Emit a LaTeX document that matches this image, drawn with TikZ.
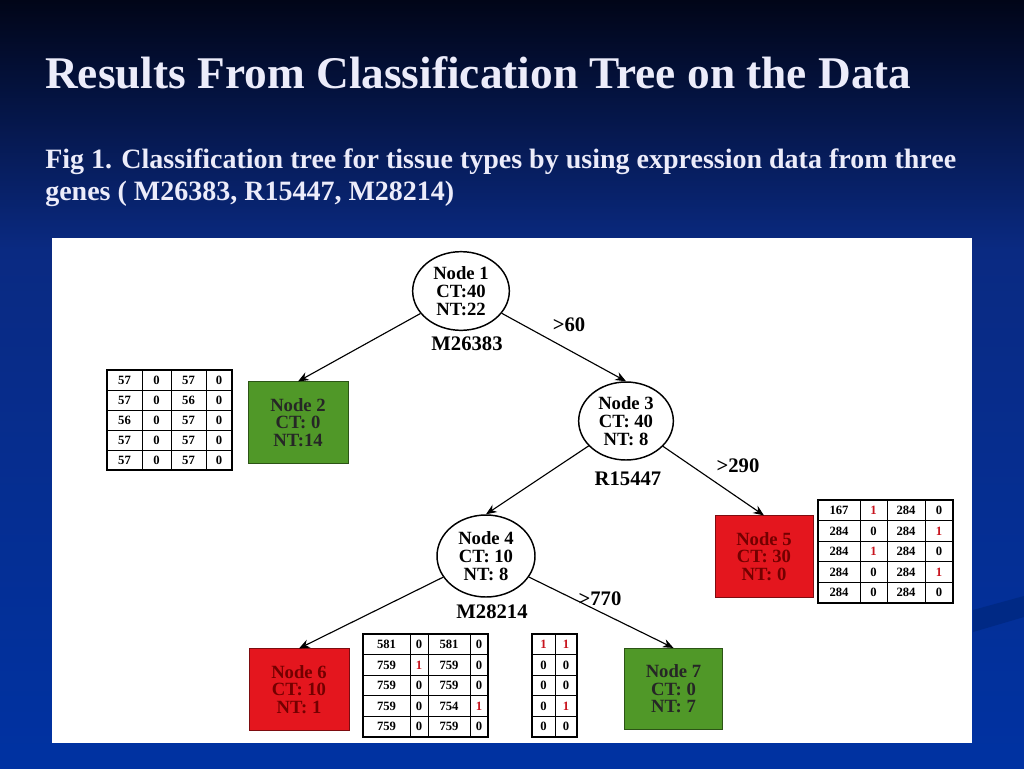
\documentclass[tikz,border=0pt]{standalone}
\usepackage{fontspec}
\setmainfont{Liberation Serif}
\usepackage{xcolor}
\usetikzlibrary{arrows.meta,shapes.geometric}

\definecolor{slidetop}{RGB}{1,5,24}
\definecolor{slidemid}{RGB}{10,42,130}
\definecolor{slidebot}{RGB}{0,50,162}
\definecolor{titlewhite}{RGB}{236,236,250}
\definecolor{leafgreen}{RGB}{80,152,40}
\definecolor{leafred}{RGB}{228,22,30}
\definecolor{cellred}{RGB}{200,20,30}

\newcommand{\rone}{\textcolor{cellred}{1}}

\begin{document}
\begin{tikzpicture}[x=0.75pt,y=-0.75pt,
    split/.style={ellipse,draw,line width=1.1pt,fill=white,align=center,inner sep=0pt,
        font=\fontsize{14}{13.5}\selectfont\bfseries},
    leaf/.style={rectangle,draw,line width=0.6pt,align=center,inner sep=0pt,
        minimum width=75pt,minimum height=61pt,font=\fontsize{14}{13.2}\selectfont\bfseries},
    gene/.style={font=\fontsize{15.5}{16}\selectfont\bfseries,inner sep=0pt},
    cell/.style={font=\fontsize{9.5}{10}\selectfont\bfseries,inner sep=0pt},
    branch/.style={-{Stealth[length=8pt,width=6.5pt]},line width=0.85pt}]
    % slide background
    \useasboundingbox (0,0) rectangle (1024,768);
    \shade[top color=slidetop,bottom color=slidemid] (0,0) rectangle (1024,250);
    \shade[top color=slidemid,bottom color=slidebot] (0,250) rectangle (1024,768);
    \fill[slidebot!82!black] (973,610) -- (1024,596) -- (1024,617) -- (973,632) -- cycle;
    \fill[white] (52,238) rectangle (972,743);

    \node[anchor=base west,inner sep=0pt,text=titlewhite,font=\fontsize{34}{36}\selectfont\bfseries]
        (title) at (45,88) {Results From Classification Tree on the Data};
    \node[anchor=base west,inner sep=0pt,text=titlewhite,font=\fontsize{21}{24}\selectfont\bfseries]
        (fig1) at (45,168) {Fig 1. Classification tree for tissue types by using expression data from three};
    \node[anchor=base west,inner sep=0pt,text=titlewhite,font=\fontsize{21}{24}\selectfont\bfseries]
        (fig2) at (45,200) {genes ( M26383, R15447, M28214)};

    % splits
    \node[split,minimum width=72.5pt,minimum height=59pt] (n1) at (461,291) {Node 1\\CT:40\\NT:22};
    \node[split,minimum width=71pt,minimum height=58.5pt] (n3) at (626,421) {Node 3\\CT: 40\\NT: 8};
    \node[split,minimum width=73.5pt,minimum height=61.5pt] (n4) at (486,556) {Node 4\\CT: 10\\NT: 8};
    % leaves
    \node[leaf,fill=leafgreen,draw=leafgreen!55!black,text=black!85] (n2) at (298,422.5) {Node 2\\CT: 0\\NT:14};
    \node[leaf,fill=leafred,draw=leafred!55!black,text=red!45!black,minimum width=73.5pt] (n5) at (764,556.5) {Node 5\\CT: 30\\NT: 0};
    \node[leaf,fill=leafred,draw=leafred!55!black,text=red!45!black] (n6) at (299,689.5) {Node 6\\CT: 10\\NT: 1};
    \node[leaf,fill=leafgreen,draw=leafgreen!55!black,text=black!85,minimum width=74pt] (n7) at (673.5,689) {Node 7\\CT: 0\\NT: 7};

    \draw[branch] (n1) -- (n2.north);
    \draw[branch] (n1) -- (n3.north);
    \draw[branch] (n3) -- (n4.north);
    \draw[branch] (n3) -- (n5.north);
    \draw[branch] (n4) -- (n6.north);
    \draw[branch] (n4) -- (n7.north);

    \node[gene] (g1) at (467,344) {M26383};
    \node[gene] (g3) at (628,479) {R15447};
    \node[gene] (g4) at (492,612) {M28214};
    \node[gene] (c1) at (569,325) {>60};
    \node[gene] (c3) at (738,466) {>290};
    \node[gene] (c4) at (600,599) {>770};

    % table beside node 2
    \foreach \a/\b/\c/\d [count=\r] in {57/0/57/0,57/0/56/0,56/0/57/0,57/0/57/0,57/0/57/0} {
        \node[cell] (ta-\r-1) at (124.5,360+20*\r) {\a};
        \node[cell] (ta-\r-2) at (156.5,360+20*\r) {\b};
        \node[cell] (ta-\r-3) at (188.5,360+20*\r) {\c};
        \node[cell] (ta-\r-4) at (219,360+20*\r) {\d};
    }
    \foreach \x in {142,171,206} \draw[line width=0.6pt] (\x,370) -- (\x,470);
    \foreach \y in {390,410,430,450} \draw[line width=0.6pt] (107,\y) -- (232,\y);
    \draw[line width=1.6pt] (107,370) rectangle (232,470);

    % table beside node 5
    \foreach \a/\b/\c/\d [count=\r] in {167/\rone/284/0,284/0/284/\rone,284/\rone/284/0,284/0/284/\rone,284/0/284/0} {
        \node[cell] (tb-\r-1) at (839,489.7+20.6*\r) {\a};
        \node[cell] (tb-\r-2) at (873.5,489.7+20.6*\r) {\b};
        \node[cell] (tb-\r-3) at (906,489.7+20.6*\r) {\c};
        \node[cell] (tb-\r-4) at (939,489.7+20.6*\r) {\d};
    }
    \foreach \x in {860,887,925} \draw[line width=0.6pt] (\x,500) -- (\x,603);
    \foreach \y in {520.6,541.2,561.8,582.4} \draw[line width=0.6pt] (818,\y) -- (953,\y);
    \draw[line width=1.6pt] (818,500) rectangle (953,603);

    % tables beside node 6
    \foreach \a/\b/\c/\d [count=\r] in {581/0/581/0,759/\rone/759/0,759/0/759/0,759/0/754/\rone,759/0/759/0} {
        \node[cell] (tc-\r-1) at (386.5,623.7+20.6*\r) {\a};
        \node[cell] (tc-\r-2) at (419,623.7+20.6*\r) {\b};
        \node[cell] (tc-\r-3) at (449,623.7+20.6*\r) {\c};
        \node[cell] (tc-\r-4) at (479,623.7+20.6*\r) {\d};
    }
    \foreach \x in {410,428,470} \draw[line width=0.6pt] (\x,634) -- (\x,737);
    \foreach \y in {654.6,675.2,695.8,716.4} \draw[line width=0.6pt] (363,\y) -- (488,\y);
    \draw[line width=1.6pt] (363,634) rectangle (488,737);

    \foreach \a/\b [count=\r] in {\rone/\rone,0/0,0/0,0/\rone,0/0} {
        \node[cell] (td-\r-1) at (543.5,623.7+20.6*\r) {\a};
        \node[cell] (td-\r-2) at (566,623.7+20.6*\r) {\b};
    }
    \draw[line width=0.6pt] (555,634) -- (555,737);
    \foreach \y in {654.6,675.2,695.8,716.4} \draw[line width=0.6pt] (532,\y) -- (577,\y);
    \draw[line width=1.6pt] (532,634) rectangle (577,737);
\end{tikzpicture}
\end{document}
